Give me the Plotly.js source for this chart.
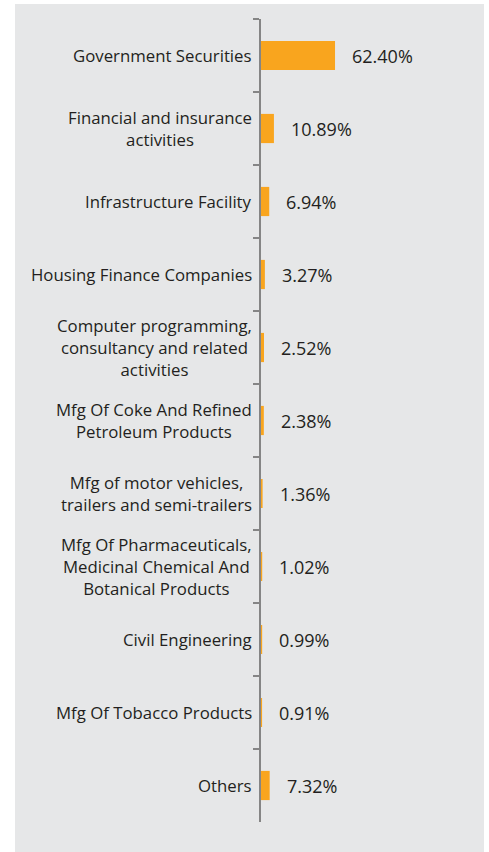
<!DOCTYPE html>
<html>
<head>
<meta charset="utf-8">
<script src="https://cdn.plot.ly/plotly-3.0.1.min.js"></script>
<style>
  html, body { margin: 0; padding: 0; background: #ffffff; }
  #chart { position: absolute; left: 15px; top: 4px; width: 469px; height: 848px; }
</style>
</head>
<body>
<div id="chart"></div>
<script>
const categories = [
  "Government Securities",
  "Financial and insurance<br>activities",
  "Infrastructure Facility",
  "Housing Finance Companies",
  "Computer programming,<br>consultancy and related<br>activities",
  "Mfg Of Coke And Refined<br>Petroleum Products",
  "Mfg of motor vehicles,<br>trailers and semi-trailers",
  "Mfg Of Pharmaceuticals,<br>Medicinal Chemical And<br>Botanical Products",
  "Civil Engineering",
  "Mfg Of Tobacco Products",
  "Others"
];
const values = [62.40, 10.89, 6.94, 3.27, 2.52, 2.38, 1.36, 1.02, 0.99, 0.91, 7.32];
const valueLabels = ["62.40%", "10.89%", "6.94%", "3.27%", "2.52%", "2.38%", "1.36%", "1.02%", "0.99%", "0.91%", "7.32%"];

const FONT = "Open Sans, Noto Sans, sans-serif";
const TEXT = "#231f20";

const trace = {
  type: "bar",
  orientation: "h",
  y: categories,
  x: values,
  width: 0.4,
  marker: { color: "#f9a51e", line: { width: 0 } },
  hoverinfo: "none"
};

const annotations = [];
categories.forEach((c, i) => {
  annotations.push({
    xref: "paper", yref: "y", x: 0, y: c,
    text: c, showarrow: false, xanchor: "right", yanchor: "middle",
    align: "center", xshift: -7,
    font: { family: FONT, size: 16.8, color: TEXT }
  });
  annotations.push({
    xref: "x", yref: "y", x: values[i], y: c,
    text: valueLabels[i], showarrow: false, xanchor: "left", yanchor: "middle",
    xshift: 15,
    font: { family: FONT, size: 18, color: TEXT }
  });
});

const layout = {
  width: 469, height: 848,
  margin: { l: 246, r: 23, t: 15, b: 30 },
  paper_bgcolor: "#e6e7e8",
  plot_bgcolor: "#e6e7e8",
  showlegend: false,
  bargap: 0.6,
  xaxis: { range: [0, 168.6], visible: false, fixedrange: true },
  yaxis: {
    type: "category",
    range: [10.5, -0.5],
    showline: true, linecolor: "#858585", linewidth: 2,
    ticks: "outside", tickson: "boundaries", ticklen: 6, tickcolor: "#858585", tickwidth: 2,
    showticklabels: false, showgrid: false, zeroline: false, fixedrange: true
  },
  annotations: annotations
};

Plotly.newPlot("chart", [trace], layout, { displayModeBar: false, staticPlot: true });
</script>
</body>
</html>
